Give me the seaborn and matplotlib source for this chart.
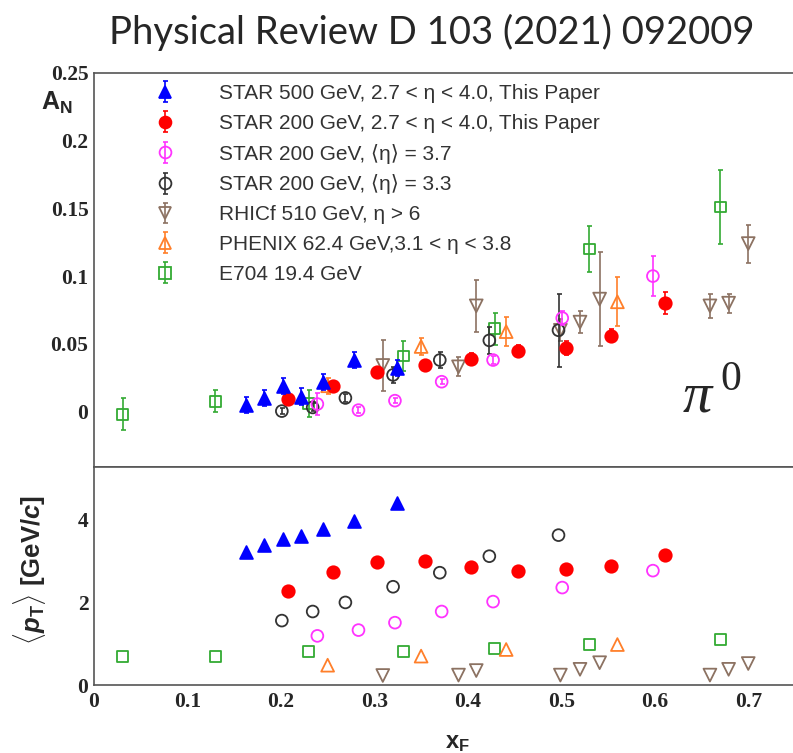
import numpy as np
import pandas as pd
import matplotlib
matplotlib.use("Agg")
import matplotlib.pyplot as plt
import seaborn as sns
from matplotlib.ticker import MultipleLocator
from matplotlib.lines import Line2D
from matplotlib.font_manager import FontProperties

# ---------------- data ----------------
labels = [
    "STAR 500 GeV, 2.7 < \u03b7 < 4.0, This Paper",
    "STAR 200 GeV, 2.7 < \u03b7 < 4.0, This Paper",
    "STAR 200 GeV, \u27e8\u03b7\u27e9 = 3.7",
    "STAR 200 GeV, \u27e8\u03b7\u27e9 = 3.3",
    "RHICf 510 GeV, \u03b7 > 6",
    "PHENIX 62.4 GeV,3.1 < \u03b7 < 3.8",
    "E704 19.4 GeV",
]

star500_x = [0.163, 0.182, 0.202, 0.222, 0.245, 0.278, 0.324]
star500_an = [0.005, 0.010, 0.019, 0.011, 0.022, 0.038, 0.032]
star500_err = [0.006, 0.006, 0.006, 0.006, 0.006, 0.006, 0.006]
star500_pt = [3.23, 3.39, 3.53, 3.61, 3.77, 3.98, 4.40]

star200_x = [0.208, 0.256, 0.303, 0.354, 0.403, 0.454, 0.505, 0.553, 0.611]
star200_an = [0.0095, 0.019, 0.029, 0.034, 0.039, 0.045, 0.047, 0.056, 0.080]
star200_err = [0.003, 0.003, 0.003, 0.004, 0.004, 0.004, 0.005, 0.005, 0.008]
star200_pt = [2.27, 2.74, 2.99, 3.01, 2.86, 2.77, 2.80, 2.88, 3.14]

eta37_x = [0.239, 0.283, 0.322, 0.372, 0.427, 0.501, 0.598]
eta37_an = [0.0055, 0.001, 0.008, 0.022, 0.038, 0.069, 0.100]
eta37_err = [0.008, 0.002, 0.002, 0.002, 0.003, 0.005, 0.015]
eta37_pt = [1.19, 1.33, 1.51, 1.78, 2.02, 2.36, 2.77]

eta33_x = [0.201, 0.234, 0.269, 0.320, 0.370, 0.423, 0.497]
eta33_an = [0.0003, 0.003, 0.010, 0.027, 0.038, 0.0525, 0.060]
eta33_err = [0.002, 0.003, 0.003, 0.006, 0.006, 0.010, 0.027]
eta33_pt = [1.56, 1.78, 2.00, 2.38, 2.72, 3.12, 3.63]

rhicf_x = [0.309, 0.390, 0.409, 0.499, 0.520, 0.541, 0.659, 0.679, 0.700]
rhicf_an = [0.034, 0.033, 0.078, 0.060, 0.066, 0.083, 0.078, 0.080, 0.124]
rhicf_err = [0.019, 0.007, 0.019, 0.008, 0.008, 0.035, 0.009, 0.007, 0.014]
rhicf_pt = [0.23, 0.24, 0.35, 0.24, 0.38, 0.54, 0.24, 0.38, 0.52]

phenix_x = [0.250, 0.350, 0.441, 0.560]
phenix_an = [0.019, 0.048, 0.059, 0.081]
phenix_err = [0.006, 0.006, 0.011, 0.018]
phenix_pt = [0.48, 0.70, 0.86, 0.98]

e704_x = [0.031, 0.130, 0.230, 0.331, 0.429, 0.530, 0.670]
e704_an = [-0.002, 0.0076, 0.0057, 0.041, 0.061, 0.120, 0.151]
e704_err = [0.012, 0.008, 0.010, 0.011, 0.012, 0.017, 0.027]
e704_pt = [0.69, 0.69, 0.81, 0.81, 0.89, 0.99, 1.11]

colors = ["#0000ff", "#ff0000", "#ff33ff", "#333333", "#8c7262", "#ff7f2a", "#33aa33"]
markers = ["^", "o", "o", "o", "v", "^", "s"]
filled = [True, True, False, False, False, False, False]

xs = [star500_x, star200_x, eta37_x, eta33_x, rhicf_x, phenix_x, e704_x]
ans = [star500_an, star200_an, eta37_an, eta33_an, rhicf_an, phenix_an, e704_an]
errs = [star500_err, star200_err, eta37_err, eta33_err, rhicf_err, phenix_err, e704_err]
pts = [star500_pt, star200_pt, eta37_pt, eta33_pt, rhicf_pt, phenix_pt, e704_pt]

# ---------------- style ----------------
sns.set_style("white")
plt.rcParams.update({
    "font.family": ["Liberation Sans", "DejaVu Sans"],
    "mathtext.fontset": "custom",
    "mathtext.rm": "Liberation Sans",
    "mathtext.it": "Liberation Sans:italic",
    "mathtext.bf": "Liberation Sans:bold",
    "mathtext.bfit": "Liberation Sans:italic:bold",
})

fig = plt.figure(figsize=(7.93, 7.53), dpi=100)
ax1 = fig.add_axes([0.1185, 0.3798, 0.884, 0.5233])
ax2 = fig.add_axes([0.1185, 0.0903, 0.884, 0.2895])

spine_c = "#555555"
draw_order = [4, 6, 5, 3, 2, 1, 0]
handles = [None] * 7
for i in draw_order:
    c = colors[i]
    fc = c if filled[i] else "none"
    s = 85 if markers[i] in ("^", "v") else (80 if filled[i] else 72)
    if markers[i] == "s":
        s = 62
    z = 3 + draw_order.index(i)
    eb = ax1.errorbar(xs[i], ans[i], yerr=errs[i], fmt="none", ecolor=c,
                      elinewidth=1.2, capsize=1.8, capthick=1.2, zorder=z)
    sns.scatterplot(x=xs[i], y=ans[i], ax=ax1, marker=markers[i], s=s,
                    color=c, facecolor=fc, edgecolor=c, linewidth=1.3,
                    zorder=z + 0.5, legend=False)
    sns.scatterplot(x=xs[i], y=pts[i], ax=ax2, marker=markers[i], s=s,
                    color=c, facecolor=fc, edgecolor=c, linewidth=1.3,
                    zorder=z + 0.5, legend=False)
    mk = Line2D([], [], marker=markers[i], linestyle="none", color=c,
                markerfacecolor=fc, markeredgecolor=c, markersize=8.5,
                markeredgewidth=1.3)
    handles[i] = (eb, mk)

leg = ax1.legend(handles, labels, loc="upper left",
                 bbox_to_anchor=(0.071, 0.972), frameon=False,
                 prop=FontProperties(family=["Liberation Sans", "DejaVu Sans"], size=15),
                 handlelength=2.0, handletextpad=1.63, labelspacing=0.52,
                 borderpad=0, borderaxespad=0)
for t in leg.get_texts():
    t.set_color("#333333")

# ---------------- axes ----------------
for ax in (ax1, ax2):
    ax.set_xlim(0, 0.75)
    ax.xaxis.set_major_locator(MultipleLocator(0.1))
    ax.xaxis.set_minor_locator(MultipleLocator(0.02))
    ax.set_xlabel("")
    ax.set_ylabel("")
    for sp in ax.spines.values():
        sp.set_color(spine_c)
        sp.set_linewidth(1.2)
    ax.tick_params(which="both", direction="in", color=spine_c, width=0.9,
                   top=False, right=False)

ax1.set_ylim(-0.041, 0.25)
ax1.yaxis.set_major_locator(MultipleLocator(0.05))
ax1.yaxis.set_minor_locator(MultipleLocator(0.01))
ax1.tick_params(axis="y", which="major", length=18)
ax1.tick_params(axis="y", which="minor", length=8.7)
ax1.tick_params(axis="x", which="major", length=8)
ax1.tick_params(axis="x", which="minor", length=4)
ax1.tick_params(axis="x", labelbottom=False)
ax1.set_yticks([0, 0.05, 0.1, 0.15, 0.2, 0.25])
ax1.set_yticklabels(["0", "0.05", "0.1", "0.15", "0.2", "0.25"])

ax2.set_ylim(0, 5.28)
ax2.yaxis.set_major_locator(MultipleLocator(2))
ax2.yaxis.set_minor_locator(MultipleLocator(0.5))
ax2.tick_params(axis="y", which="major", length=9.5)
ax2.tick_params(axis="y", which="minor", length=5)
ax2.tick_params(axis="x", which="major", length=8.5)
ax2.tick_params(axis="x", which="minor", length=4)
ax2.set_xticks([0, 0.1, 0.2, 0.3, 0.4, 0.5, 0.6, 0.7])
ax2.set_xticklabels(["0", "0.1", "0.2", "0.3", "0.4", "0.5", "0.6", "0.7"])
ax2.set_yticks([0, 2, 4])
ax2.set_yticklabels(["0", "2", "4"])

tick_font = FontProperties(family="Liberation Serif", weight="bold", size=15.5)
for ax in (ax1, ax2):
    for lab in ax.get_xticklabels() + ax.get_yticklabels():
        lab.set_fontproperties(tick_font)
ax1.tick_params(axis="y", pad=4)
ax2.tick_params(axis="y", pad=4)
ax2.tick_params(axis="x", pad=5)

# ---------------- texts ----------------
fig.text(0.545, 0.957, "Physical Review D 103 (2021) 092009", ha="center",
         va="center", fontsize=27.5, family="Lato")
fig.text(0.052, 0.854, r"$\mathbf{A}_{\mathbf{N}}$", fontsize=18,
         ha="left", va="baseline")
fig.text(0.037, 1 - 570 / 753, r"$\langle\mathbfit{p}_{\mathbf{T}}\rangle$ [GeV/$\mathbfit{c}$]",
         rotation=90, ha="center", va="center", fontsize=18.5, fontweight="bold")
fig.text(457 / 793, 0.0066, r"$\mathbf{x}_{\mathbf{F}}$", fontsize=17,
         ha="center", va="baseline")
fig.text(683 / 793, 1 - 412 / 753, "\u03c0", family="Liberation Serif",
         style="italic", fontsize=42, ha="left", va="baseline")
fig.text(720 / 793, 1 - 390 / 753, "0", family="Liberation Serif",
         fontsize=30, ha="left", va="baseline")

fig.savefig("out.png", dpi=100)
